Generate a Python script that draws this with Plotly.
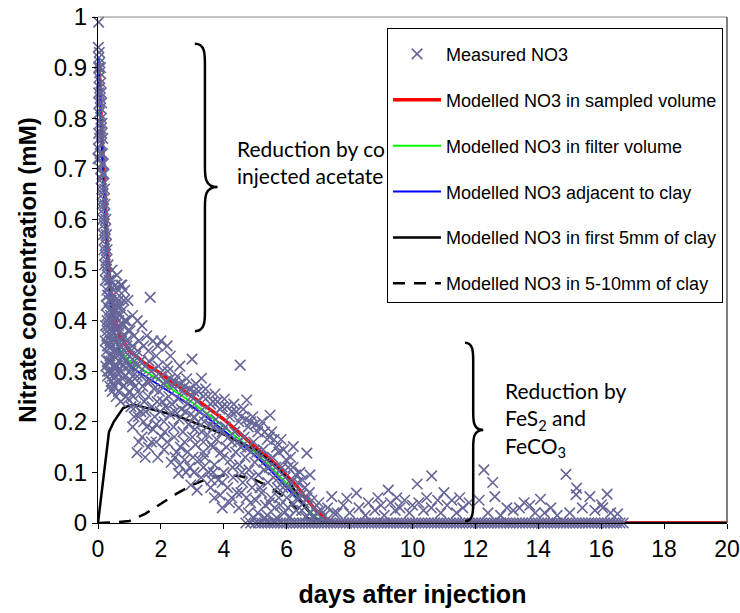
import plotly.graph_objects as go

# ---------------- Measured NO3 (days after injection, mM) ----------------
meas_early = [(0.02,0.99),(0.01,0.94),(0.04,0.93),(0.03,0.92),(0.06,0.91),(0.02,0.90),(0.08,0.90),(0.05,0.89),
              (0.03,0.88),(0.09,0.87),(0.06,0.86),(0.02,0.85),(0.10,0.85),(0.07,0.84),(0.04,0.83),(0.12,0.83),
              (0.08,0.82),(0.03,0.81),(0.11,0.80),(0.06,0.79),(0.13,0.79),(0.09,0.78),(0.02,0.77),(0.12,0.77),
              (0.05,0.76),(0.15,0.76),(0.01,0.74),(0.10,0.75),(0.07,0.73),(0.03,0.72),(0.14,0.73),(0.00,0.72),
              (0.11,0.71),(0.17,0.71),(0.08,0.70),(0.13,0.69),(0.19,0.69),(0.10,0.68),(0.16,0.67),(0.12,0.66),
              (0.21,0.66),(0.15,0.65),(0.18,0.64),(0.13,0.63),(0.22,0.63),(0.17,0.62),(0.20,0.61),(0.15,0.60),
              (0.25,0.60),(0.19,0.59),(0.23,0.58),(0.17,0.57),(0.27,0.57),(0.21,0.56),(0.25,0.55),(0.19,0.54),
              (0.29,0.54),(0.23,0.53),(0.27,0.52),(0.21,0.51),(0.32,0.51),(0.25,0.50),(0.30,0.49),(0.23,0.48),
              (0.35,0.48)]

meas_knee = [(0.45,0.50),(0.60,0.49),(0.72,0.47),(0.85,0.46),(0.50,0.46),(0.38,0.47),(0.28,0.46),(0.33,0.45),
             (0.42,0.44),(0.55,0.44),(0.66,0.44),(0.26,0.43),(0.36,0.42),(0.48,0.42),(0.60,0.42),(0.78,0.42),
             (0.30,0.41),(0.41,0.40),(0.52,0.40),(0.66,0.40),(0.90,0.40),(0.24,0.39),(0.34,0.39),(0.45,0.38),
             (0.58,0.38),(0.72,0.38),(1.02,0.38),(0.28,0.37),(0.39,0.37),(0.50,0.36),(0.63,0.36),(0.82,0.37),
             (1.15,0.37),(0.23,0.36),(0.33,0.35),(0.44,0.35),(0.56,0.34),(0.70,0.35),(0.92,0.35),(1.30,0.36),
             (0.27,0.34),(0.38,0.33),(0.50,0.33),(0.62,0.33),(0.78,0.33),(1.05,0.34),(1.45,0.35),(0.30,0.32),
             (0.42,0.32),(0.55,0.31),(0.68,0.32),(0.88,0.32),(1.20,0.33),(1.60,0.34),(0.25,0.31),(0.35,0.30),
             (0.48,0.30),(0.60,0.30),(0.75,0.30),(0.98,0.31),(1.35,0.32),(1.85,0.33),(0.30,0.29),(0.42,0.28),
             (0.55,0.29),(0.70,0.28),(0.85,0.29),(1.10,0.29),(0.38,0.27),(0.52,0.27),(0.65,0.26),(0.80,0.27),
             (1.66,0.446),(0.76,0.47),(0.95,0.44),(1.25,0.40),(1.40,0.39),(1.10,0.41),(1.55,0.37),(1.75,0.36),
             (2.00,0.36),(2.20,0.35),(2.99,0.324),(1.90,0.35),(2.30,0.33),(2.60,0.31),(2.20,0.31),(4.52,0.312),
             (0.30,0.45),(0.40,0.48),(0.55,0.47),(0.65,0.46),(0.35,0.44),(0.47,0.45),(0.58,0.43),(0.70,0.43),
             (0.82,0.44),(0.29,0.40),(0.40,0.41),(0.55,0.41),(0.70,0.41),(0.85,0.40),(0.30,0.38),(0.50,0.39),
             (0.65,0.39),(0.80,0.39),(0.95,0.38),(0.38,0.36),(0.55,0.37),(0.75,0.36),(0.90,0.36),(1.10,0.35),
             (0.30,0.35),(0.48,0.34),(0.65,0.34),(0.85,0.34),(1.00,0.33),(1.25,0.34),(0.35,0.32),(0.50,0.31),
             (0.62,0.31),(0.80,0.31),(1.10,0.31),(0.45,0.29),(0.60,0.28),(0.78,0.285),(0.95,0.28),(0.30,0.30),
             (0.45,0.26),(0.58,0.25),(0.72,0.24),(0.90,0.25)]

meas_band = [(1.02,0.30),(1.08,0.28),(1.00,0.26),(1.12,0.25),(1.05,0.23),(1.15,0.21),(1.10,0.19),(0.95,0.245),(1.18,0.27),
             (1.30,0.31),(1.38,0.29),(1.42,0.27),(1.33,0.255),(1.47,0.24),(1.36,0.22),(1.45,0.20),(1.24,0.139),(1.40,0.17),
             (1.62,0.32),(1.70,0.30),(1.65,0.28),(1.78,0.265),(1.60,0.25),(1.72,0.23),(1.80,0.21),(1.60,0.15),(1.75,0.185),
             (1.92,0.31),(2.00,0.29),(2.08,0.275),(1.95,0.26),(2.05,0.24),(1.98,0.22),(2.10,0.20),(2.02,0.17),(1.90,0.13),
             (2.22,0.30),(2.30,0.285),(2.38,0.27),(2.25,0.25),(2.35,0.235),(2.28,0.215),(2.40,0.19),(2.20,0.16),(2.33,0.12),
             (2.52,0.29),(2.60,0.275),(2.68,0.26),(2.55,0.245),(2.65,0.225),(2.58,0.205),(2.70,0.18),(2.56,0.098),(2.62,0.15),
             (2.82,0.285),(2.90,0.265),(2.97,0.25),(2.85,0.235),(2.95,0.215),(2.88,0.195),(3.00,0.17),(2.85,0.14),(2.92,0.11),
             (3.12,0.275),(3.20,0.26),(3.29,0.286),(3.15,0.24),(3.25,0.22),(3.18,0.20),(3.30,0.18),(3.10,0.155),(3.22,0.125),(3.28,0.09),
             (3.42,0.265),(3.50,0.25),(3.58,0.235),(3.45,0.215),(3.55,0.195),(3.48,0.175),(3.60,0.155),(3.40,0.13),(3.52,0.10),(3.58,0.07),
             (3.72,0.255),(3.80,0.24),(3.88,0.225),(3.75,0.205),(3.85,0.185),(3.78,0.165),(3.90,0.14),(3.70,0.115),(3.82,0.085),(3.88,0.055),
             (4.02,0.245),(4.10,0.23),(4.18,0.21),(4.05,0.19),(4.15,0.17),(4.08,0.15),(4.20,0.125),(4.00,0.10),(4.12,0.07),(4.18,0.04),
             (4.32,0.235),(4.40,0.22),(4.48,0.20),(4.35,0.18),(4.45,0.16),(4.38,0.14),(4.50,0.115),(4.30,0.09),(4.42,0.06),(4.48,0.03),
             (4.62,0.225),(4.73,0.243),(4.70,0.205),(4.78,0.19),(4.65,0.17),(4.75,0.15),(4.68,0.13),(4.80,0.105),(4.60,0.08),(4.72,0.05),(4.78,0.02),
             (4.92,0.21),(5.00,0.195),(5.08,0.18),(4.95,0.16),(5.05,0.14),(4.98,0.12),(5.10,0.095),(4.90,0.07),(5.02,0.045),(5.08,0.02),
             (5.22,0.20),(5.30,0.18),(5.38,0.165),(5.25,0.145),(5.35,0.125),(5.28,0.105),(5.40,0.08),(5.20,0.06),(5.32,0.035),(5.38,0.015),(5.47,0.213),
             (5.52,0.18),(5.60,0.165),(5.68,0.15),(5.55,0.13),(5.65,0.11),(5.58,0.09),(5.70,0.07),(5.50,0.05),(5.62,0.03),(5.68,0.01),
             (5.82,0.165),(5.90,0.145),(5.98,0.125),(5.85,0.11),(5.95,0.09),(5.88,0.07),(6.00,0.05),(5.80,0.035),(5.92,0.02),
             (6.12,0.13),(6.21,0.151),(6.20,0.11),(6.28,0.095),(6.15,0.08),(6.25,0.06),(6.18,0.04),(6.30,0.025),(6.10,0.012),
             (6.42,0.10),(6.50,0.085),(6.58,0.07),(6.45,0.055),(6.55,0.04),(6.48,0.025),(6.60,0.012),(6.64,0.138),
             (6.74,0.095),(6.72,0.06),(6.80,0.045),(6.88,0.03),(6.75,0.02),(6.85,0.01),
             (7.02,0.04),(7.10,0.025),(7.20,0.015),(7.43,0.052),(7.30,0.03),(7.50,0.02),
             (1.15,0.32),(1.25,0.29),(1.20,0.23),(1.28,0.21),(1.50,0.31),(1.55,0.28),(1.52,0.22),(1.55,0.19),
             (1.85,0.29),(1.88,0.24),(1.85,0.195),(1.70,0.16),(2.15,0.28),(2.15,0.23),(2.12,0.18),(2.45,0.28),
             (2.45,0.22),(2.42,0.17),(2.50,0.14),(2.75,0.27),(2.78,0.22),(2.75,0.16),(2.80,0.10),(3.05,0.26),
             (3.05,0.21),(3.08,0.185),(3.02,0.13),(3.35,0.25),(3.38,0.20),(3.35,0.16),(3.35,0.14),(3.65,0.24),
             (3.68,0.19),(3.65,0.15),(3.66,0.10),(3.95,0.23),(3.95,0.18),(3.98,0.13),(3.95,0.08),(4.25,0.22),
             (4.25,0.16),(4.28,0.11),(4.25,0.05),(4.55,0.21),(4.55,0.15),(4.58,0.10),(4.55,0.06),(4.85,0.20),
             (4.85,0.14),(4.88,0.09),(4.85,0.04),(5.15,0.19),(5.15,0.13),(5.15,0.07),(5.45,0.17),(5.45,0.11),
             (5.45,0.04),(5.75,0.14),(5.75,0.09),(5.75,0.05),(6.05,0.11),(6.05,0.07),(6.05,0.03),(6.35,0.08),
             (6.35,0.045),(6.65,0.05),(6.95,0.02),(5.30,0.01),(5.60,0.005),(4.95,0.01)]

meas_low = [(1.30,0.16),(1.50,0.13),(1.85,0.16),(2.10,0.145),(2.45,0.13),(2.60,0.115),(2.75,0.125),(3.05,0.10),
            (3.35,0.11),(3.60,0.085),(2.95,0.075),(3.15,0.065),(3.70,0.05),(3.95,0.03)]

meas_tail = [(7.60,0.02),(7.80,0.035),(7.91,0.049),(8.00,0.02),(8.22,0.059),(8.30,0.03),(8.50,0.015),(8.60,0.04),
             (8.80,0.025),(8.90,0.05),(9.00,0.035),(9.10,0.015),(9.23,0.065),(9.30,0.04),(9.45,0.025),(9.50,0.05),
             (9.60,0.03),(9.75,0.045),(9.90,0.02),(10.00,0.035),(10.15,0.077),(10.20,0.04),(10.35,0.025),(10.45,0.05),
             (10.61,0.093),(10.60,0.03),(10.80,0.045),(10.90,0.02),(11.00,0.06),(11.10,0.035),(11.25,0.045),(11.40,0.02),
             (11.50,0.05),(11.60,0.03),(11.80,0.04),(12.12,0.045),(12.27,0.105),(12.55,0.08),(12.62,0.052),(12.40,0.02),
             (12.80,0.015),(13.00,0.03),(13.20,0.025),(13.40,0.03),(13.55,0.04),(13.73,0.035),(13.90,0.02),(14.07,0.047),
             (14.20,0.02),(14.40,0.03),(14.60,0.015),(14.88,0.096),(15.00,0.02),(15.22,0.069),(15.20,0.056),(15.40,0.03),
             (15.64,0.052),(15.80,0.025),(16.01,0.036),(16.05,0.03),(16.19,0.057),(16.30,0.02),(16.52,0.018)]

# days at which measured NO3 was at zero (dense band on the axis)
meas_zero_days = [4.7, 4.85, 5.0, 5.1, 5.2, 5.3, 5.4, 5.5, 5.6, 5.7, 5.8, 5.9, 6.0, 6.1, 6.2, 6.3, 6.4, 6.5,
                  6.6, 6.7, 6.8, 6.9, 7.0, 7.1, 7.2, 7.3, 7.4, 7.5, 7.6, 7.7, 7.8, 7.9, 8.0, 8.1, 8.2, 8.3,
                  8.4, 8.5, 8.6, 8.7, 8.8, 8.9, 9.0, 9.1, 9.2, 9.3, 9.4, 9.5, 9.6, 9.7, 9.8, 9.9, 10.0, 10.1,
                  10.2, 10.3, 10.4, 10.5, 10.6, 10.7, 10.8, 10.9, 11.0, 11.1, 11.2, 11.3, 11.4, 11.5, 11.6,
                  11.7, 11.8, 11.9, 12.0, 12.1, 12.2, 12.3, 12.4, 12.5, 12.6, 12.7, 12.8, 12.9, 13.0, 13.1,
                  13.2, 13.3, 13.4, 13.5, 13.6, 13.7, 13.8, 13.9, 14.0, 14.1, 14.2, 14.3, 14.4, 14.5, 14.6,
                  14.7, 14.8, 14.9, 15.0, 15.1, 15.2, 15.3, 15.4, 15.5, 15.6, 15.7, 15.8, 15.9, 16.0, 16.1,
                  16.2, 16.3, 16.4, 16.5, 16.6, 16.7]

# ---------------- Modelled NO3 ----------------
red_days = [0, 0.05, 0.1, 0.15, 0.2, 0.25, 0.3, 0.4, 0.5, 0.7, 1.0, 1.5, 2, 2.5, 3, 3.5, 4, 4.5, 5, 5.5, 6, 6.3, 6.6, 6.9, 7.2, 7.5, 8, 20]
red_no3 = [0.92, 0.88, 0.80, 0.73, 0.67, 0.60, 0.54, 0.46, 0.41, 0.37, 0.34, 0.315, 0.295, 0.272, 0.25, 0.228, 0.205, 0.178,
           0.15, 0.125, 0.095, 0.075, 0.05, 0.027, 0.01, 0.002, 0, 0]

gb_days = [0, 0.05, 0.1, 0.15, 0.2, 0.25, 0.3, 0.4, 0.5, 0.7, 1.0, 1.5, 2, 2.5, 3, 3.5, 4, 4.5, 5, 5.5, 6, 6.3, 6.6, 6.9, 7.2, 7.5]
green_no3 = [0.92, 0.86, 0.77, 0.70, 0.63, 0.56, 0.50, 0.43, 0.38, 0.34, 0.32, 0.30, 0.28, 0.258, 0.238, 0.215, 0.19, 0.165,
             0.14, 0.11, 0.078, 0.055, 0.032, 0.012, 0.002, 0]
blue_no3 = [0.92, 0.86, 0.77, 0.70, 0.63, 0.56, 0.50, 0.43, 0.38, 0.335, 0.31, 0.29, 0.27, 0.25, 0.23, 0.207, 0.183, 0.158,
            0.133, 0.103, 0.07, 0.05, 0.028, 0.01, 0.002, 0]

clay5_days = [0, 0.35, 0.5, 0.8, 1.0, 1.2, 1.5, 2, 2.5, 3, 3.5, 4, 4.5, 5, 5.5, 6, 6.3, 6.6, 6.9, 7.2, 20]
clay5_no3 = [0, 0.18, 0.20, 0.227, 0.232, 0.233, 0.228, 0.22, 0.212, 0.20, 0.188, 0.175, 0.16, 0.145, 0.12, 0.09, 0.06,
             0.03, 0.008, 0, 0]

clay10_days = [0, 0.5, 1.0, 1.5, 2, 2.5, 3, 3.5, 4, 4.5, 5, 5.5, 6, 6.3, 6.6, 6.9, 7.2]
clay10_no3 = [0, 0.001, 0.004, 0.018, 0.038, 0.058, 0.075, 0.088, 0.094, 0.093, 0.085, 0.07, 0.048, 0.03, 0.012, 0.002, 0]

y_ticks = [0, 0.1, 0.2, 0.3, 0.4, 0.5, 0.6, 0.7, 0.8, 0.9, 1]
y_ticktext = ["0", "0.1", "0.2", "0.3", "0.4", "0.5", "0.6", "0.7", "0.8", "0.9", "1"]
x_ticks = [0, 2, 4, 6, 8, 10, 12, 14, 16, 18, 20]

# ---------------- assemble ----------------
pairs = meas_early + meas_knee + meas_band + meas_low + meas_tail
meas_x = [p[0] for p in pairs] + meas_zero_days
meas_y = [p[1] for p in pairs] + [0.0] * len(meas_zero_days)

MARK = "rgb(102,102,153)"
fig = go.Figure()

fig.add_trace(go.Scatter(x=red_days, y=red_no3, mode="lines", name="Modelled NO3 in sampled volume",
                         line=dict(color="#FF0000", width=3.5), legendgroup="g2", legendrank=2))
fig.add_trace(go.Scatter(x=gb_days, y=green_no3, mode="lines", name="Modelled NO3 in filter volume",
                         line=dict(color="#00FF00", width=2), legendgroup="g3", legendrank=3))
fig.add_trace(go.Scatter(x=gb_days, y=blue_no3, mode="lines", name="Modelled NO3 adjacent to clay",
                         line=dict(color="#0000FF", width=2), legendgroup="g4", legendrank=4))
fig.add_trace(go.Scatter(x=clay5_days, y=clay5_no3, mode="lines", name="Modelled NO3 in first 5mm of clay",
                         line=dict(color="black", width=2.5), legendgroup="g5", legendrank=5))
fig.add_trace(go.Scatter(x=clay10_days, y=clay10_no3, mode="lines", name="Modelled NO3 in 5-10mm of clay",
                         line=dict(color="black", width=2.5, dash="12px,9px"), legendgroup="g6", legendrank=6))
fig.add_trace(go.Scatter(x=meas_x, y=meas_y, mode="markers", name="Measured NO3", cliponaxis=False,
                         marker=dict(symbol="x-thin", size=10.5, color=MARK, line=dict(color=MARK, width=1.6)),
                         legendgroup="g1", legendrank=1))


def brace(x0, xs, xt, ytop, ymid, ybot, ry):
    """Right-facing curly brace path in data coordinates."""
    return (f"M {x0},{ytop} C {xs},{ytop} {xs},{ytop - ry} {xs},{ytop - 2*ry} "
            f"L {xs},{ymid + 2*ry} C {xs},{ymid + ry} {xs},{ymid} {xt},{ymid} "
            f"C {xs},{ymid} {xs},{ymid - ry} {xs},{ymid - 2*ry} "
            f"L {xs},{ybot + 2*ry} C {xs},{ybot + ry} {xs},{ybot} {x0},{ybot}")


shapes = [
    dict(type="path", xref="x", yref="y", path=brace(3.08, 3.40, 3.80, 0.947, 0.664, 0.379, 0.02),
         line=dict(color="black", width=2.5)),
    dict(type="path", xref="x", yref="y", path=brace(11.67, 11.93, 12.25, 0.356, 0.184, 0.004, 0.018),
         line=dict(color="black", width=2.5)),
    dict(type="line", xref="paper", yref="paper", x0=0, x1=1, y0=1, y1=1, line=dict(color="#888888", width=1)),
    dict(type="line", xref="paper", yref="paper", x0=1, x1=1, y0=0, y1=1, line=dict(color="#555555", width=1.5)),
]

annotations = [
    dict(x=4.36, y=0.714, xref="x", yref="y", xanchor="left", yanchor="middle", align="left", showarrow=False,
         text="Reduction by co<br>injected acetate", font=dict(family="Lato", size=21, color="black")),
    dict(x=12.88, y=0.2036, xref="x", yref="y", xanchor="left", yanchor="middle", align="left", showarrow=False,
         text="Reduction by<br>FeS<sub>2</sub> and<br>FeCO<sub>3</sub>", font=dict(family="Lato", size=21, color="black")),
]

fig.update_layout(
    width=740, height=613,
    margin=dict(l=98, r=13, t=17, b=90, autoexpand=False),
    paper_bgcolor="white", plot_bgcolor="white",
    font=dict(family="Arial, Liberation Sans", color="black"),
    showlegend=True,
    legend=dict(x=0.4595, y=0.978, xanchor="left", yanchor="top", bgcolor="white",
                bordercolor="black", borderwidth=1, font=dict(family="Arial, Liberation Sans", size=18),
                itemwidth=48, tracegroupgap=19.5,
                title=dict(text="&nbsp;", font=dict(size=5))),
    xaxis=dict(range=[0, 20], tickvals=x_ticks, showgrid=False, zeroline=False, showline=True,
               linecolor="black", linewidth=1, ticks="outside", ticklen=5, tickcolor="black",
               tickfont=dict(size=23),
               title=dict(text="<b>days after injection</b>", font=dict(size=25), standoff=24)),
    yaxis=dict(range=[0, 1], tickvals=y_ticks, ticktext=y_ticktext, showgrid=False, zeroline=False,
               showline=True, linecolor="black", linewidth=1, ticks="outside", ticklen=5, tickcolor="black",
               tickfont=dict(size=24),
               title=dict(text="<b>Nitrate concentration (mM)</b>", font=dict(size=24), standoff=10)),
    shapes=shapes,
    annotations=annotations,
)

fig.write_html("out.html")
